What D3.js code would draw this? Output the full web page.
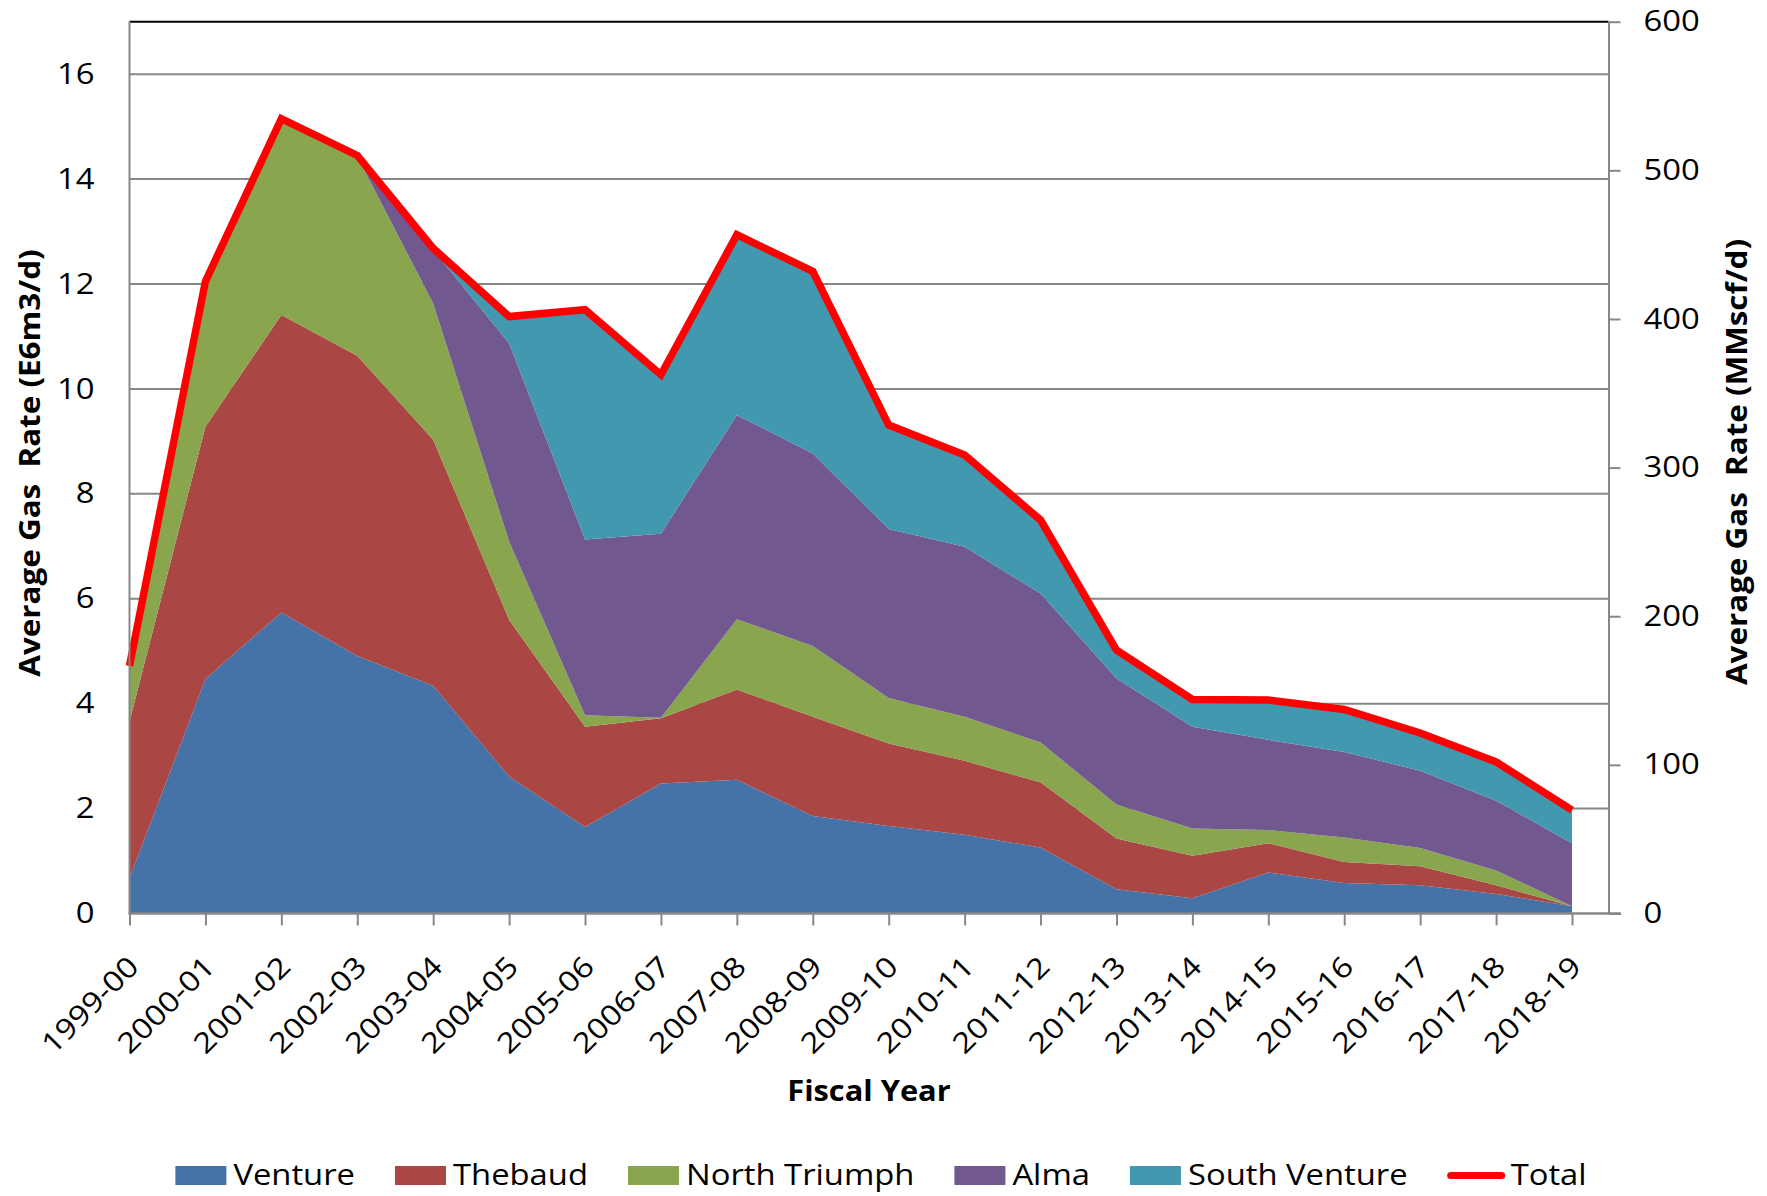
<!DOCTYPE html>
<html><head><meta charset="utf-8">
<script src="https://cdn.jsdelivr.net/npm/d3@7"></script>
<style>
body{margin:0;background:#fff}
text{font-family:"Open Sans",sans-serif;fill:#000;white-space:pre}
</style>
</head><body>
<svg id="chart" width="1767" height="1196"></svg>
<script>
const categories = ["1999-00","2000-01","2001-02","2002-03","2003-04","2004-05","2005-06","2006-07","2007-08","2008-09",
  "2009-10","2010-11","2011-12","2012-13","2013-14","2014-15","2015-16","2016-17","2017-18","2018-19"];
const venture      = [0.67,4.47,5.74,4.91,4.34,2.61,1.65,2.48,2.55,1.86,1.67,1.50,1.26,0.46,0.29,0.78,0.58,0.54,0.37,0.14];
const thebaud      = [2.99,4.81,5.67,5.72,4.69,2.99,1.91,1.24,1.72,1.89,1.57,1.41,1.24,0.97,0.81,0.56,0.40,0.36,0.17,0.00];
const northTriumph = [1.05,2.77,3.72,3.80,2.60,1.49,0.22,0.01,1.34,1.35,0.87,0.84,0.76,0.65,0.52,0.25,0.47,0.35,0.28,0.00];
const alma         = [0.00,0.00,0.00,0.00,1.02,3.78,3.35,3.51,3.89,3.67,3.22,3.24,2.84,2.40,1.94,1.72,1.63,1.47,1.33,1.20];
const southVenture = [0.00,0.00,0.00,0.00,0.00,0.51,4.38,3.03,3.44,3.47,1.98,1.75,1.40,0.54,0.52,0.76,0.81,0.72,0.74,0.63];
const total        = [4.72,12.05,15.15,14.45,12.68,11.38,11.51,10.27,12.94,12.24,9.31,8.74,7.50,5.02,4.08,4.07,3.89,3.44,2.89,1.97];
const leftTicks  = [0,2,4,6,8,10,12,14,16];
const rightTicks = [0,100,200,300,400,500,600];
const seriesNames = ["Venture","Thebaud","North Triumph","Alma","South Venture"];
const seriesColors = ["#4572A7","#AA4643","#89A54E","#71588F","#4198AF"];
const totalName = "Total";
const leftTitle = "Average Gas  Rate (E6m3/d)";
const rightTitle = "Average Gas  Rate (MMscf/d)";
const xTitle = "Fiscal Year";

const seriesArrays = [venture, thebaud, northTriumph, alma, southVenture];
const rows = categories.map((c,i)=>{
  const r = {cat:c};
  seriesNames.forEach((n,k)=> r[n] = seriesArrays[k][i]);
  return r;
});

const L = 129.5, R = 1608.5, T = 21.7, B = 913.5;
const STRETCH = 1.15;
const svg = d3.select("#chart");

const x = d3.scalePoint().domain(categories).range([L, 1572]);
const yL = d3.scaleLinear().domain([0,17]).range([B,T]);
const yR = d3.scaleLinear().domain([0,600]).range([B,T]);

function stretch(sel, f){
  sel.each(function(){
    const w = this.getComputedTextLength();
    d3.select(this).attr("textLength", w*f).attr("lengthAdjust","spacingAndGlyphs");
  });
}

// gridlines
svg.append("g").selectAll("line").data(leftTicks.filter(v=>v>0)).join("line")
  .attr("x1",L).attr("x2",R).attr("y1",d=>yL(d)).attr("y2",d=>yL(d))
  .attr("stroke","#878787").attr("stroke-width",2);
svg.append("line").attr("x1",L).attr("x2",R).attr("y1",T).attr("y2",T)
  .attr("stroke","#000").attr("stroke-width",2);

// areas
const stack = d3.stack().keys(seriesNames);
const stacked = stack(rows);
const area = d3.area().x(d=>x(d.data.cat)).y0(d=>yL(d[0])).y1(d=>yL(d[1]));
svg.append("g").selectAll("path").data(stacked).join("path")
  .attr("d",area).attr("fill",(d,i)=>seriesColors[i]);

// total line
const line = d3.line().x((d,i)=>x(categories[i])).y(d=>yL(d));
svg.append("path").attr("d",line(total)).attr("fill","none")
  .attr("stroke","#FF0000").attr("stroke-width",7.5).attr("stroke-linejoin","miter");

// axes lines
svg.append("line").attr("x1",L).attr("x2",L).attr("y1",T).attr("y2",B)
  .attr("stroke","#878787").attr("stroke-width",2);
svg.append("line").attr("x1",L-1).attr("x2",1621).attr("y1",B).attr("y2",B)
  .attr("stroke","#878787").attr("stroke-width",2.5);

// left axis labels
const gl = svg.append("g").attr("transform",`translate(${L},0)`)
  .call(d3.axisLeft(yL).tickValues(leftTicks).tickSize(0).tickPadding(35));
gl.select(".domain").remove();
gl.selectAll("text").attr("font-size",28.5).attr("font-family","Open Sans").attr("fill","#000");
stretch(gl.selectAll("text"), STRETCH);

// right axis
const gr = svg.append("g").attr("transform",`translate(${R},0)`)
  .call(d3.axisRight(yR).tickValues(rightTicks).tickSize(12).tickSizeOuter(0).tickPadding(23));
gr.select(".domain").attr("stroke","#878787").attr("stroke-width",2);
gr.selectAll(".tick line").attr("stroke","#878787").attr("stroke-width",2);
gr.selectAll("text").attr("font-size",28.5).attr("font-family","Open Sans").attr("fill","#000");
stretch(gr.selectAll("text"), STRETCH);

// bottom axis ticks
const gb = svg.append("g").attr("transform",`translate(0,${B})`)
  .call(d3.axisBottom(x).tickSize(12).tickFormat(""));
gb.select(".domain").remove();
gb.selectAll(".tick line").attr("stroke","#878787").attr("stroke-width",2);

// x labels rotated
const xl = svg.append("g").selectAll("text").data(categories).join("text")
  .attr("transform",d=>`translate(${x(d)+11},${B+55}) rotate(-45)`)
  .attr("text-anchor","end").attr("font-size",28.5).text(d=>d);
stretch(xl, STRETCH);

// titles
const t1 = svg.append("text").attr("transform",`translate(40,463) rotate(-90)`)
  .attr("text-anchor","middle").attr("font-size",28).attr("font-weight","bold").text(leftTitle);
const t2 = svg.append("text").attr("transform",`translate(1747,462) rotate(-90)`)
  .attr("text-anchor","middle").attr("font-size",28).attr("font-weight","bold").text(rightTitle);
const t3 = svg.append("text").attr("x",(L+R)/2).attr("y",1101)
  .attr("text-anchor","middle").attr("font-size",28).attr("font-weight","bold").text(xTitle);
stretch(t1, 1.12); stretch(t2, 1.12); stretch(t3, 1.1);

// legend
const legItems = seriesNames.map((n,i)=>({name:n,color:seriesColors[i],type:"area"}))
  .concat([{name:totalName,color:"#FF0000",type:"line"}]);
const leg = svg.append("g");
let cx = 0;
const swW = 51, swH = 19, gapT = 7, gapI = 40, ly = 1166;
legItems.forEach((it,i)=>{
  const g = leg.append("g").attr("transform",`translate(${cx},0)`);
  if(it.type==="area"){
    g.append("rect").attr("x",0).attr("y",ly).attr("width",swW).attr("height",swH).attr("fill",it.color);
  } else {
    g.append("line").attr("x1",3).attr("x2",swW+3).attr("y1",ly+swH/2).attr("y2",ly+swH/2)
      .attr("stroke",it.color).attr("stroke-width",7).attr("stroke-linecap","round");
  }
  const t = g.append("text").attr("x",swW+gapT+(it.type==="line"?5:0)).attr("y",ly+swH).attr("font-size",28.5).text(it.name);
  stretch(t, STRETCH);
  const w = +t.attr("textLength");
  cx += swW + gapT + (it.type==="line"?5:0) + w + gapI;
});
const legW = cx - gapI;
leg.attr("transform",`translate(${881 - legW/2},0)`);
</script>
</body></html>
